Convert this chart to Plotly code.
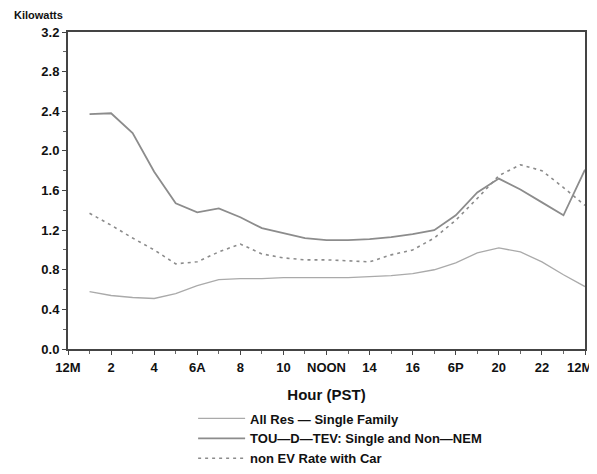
import plotly.graph_objects as go

hours = list(range(1, 25))
all_res = [0.58, 0.54, 0.52, 0.51, 0.56, 0.64, 0.70, 0.71, 0.71, 0.72, 0.72, 0.72,
           0.72, 0.73, 0.74, 0.76, 0.80, 0.87, 0.97, 1.02, 0.98, 0.88, 0.75, 0.63]
tou_tev = [2.37, 2.38, 2.18, 1.79, 1.47, 1.38, 1.42, 1.33, 1.22, 1.17, 1.12, 1.10,
           1.10, 1.11, 1.13, 1.16, 1.20, 1.35, 1.58, 1.72, 1.61, 1.48, 1.35, 1.81]
non_ev = [1.37, 1.25, 1.12, 1.00, 0.86, 0.88, 0.98, 1.06, 0.96, 0.92, 0.90, 0.90,
          0.89, 0.88, 0.95, 1.00, 1.12, 1.30, 1.52, 1.75, 1.86, 1.80, 1.63, 1.45]

names = ["All Res \u2014 Single Family", "TOU\u2014D\u2014TEV: Single and Non\u2014NEM",
         "non EV Rate with Car"]

x_tickvals = [0, 2, 4, 6, 8, 10, 12, 14, 16, 18, 20, 22, 24]
x_ticktext = ["12M", "2", "4", "6A", "8", "10", "NOON", "14", "16", "6P", "20", "22",
              "12M\u00a0\u00a0\u00a0"]
y_tickvals = [0.0, 0.4, 0.8, 1.2, 1.6, 2.0, 2.4, 2.8, 3.2]
y_ticktext = ["0.0", "0.4", "0.8", "1.2", "1.6", "2.0", "2.4", "2.8", "3.2"]

FAM = "Liberation Sans, Arial, sans-serif"
tick_font = dict(family=FAM, size=13, color="#111", weight="bold")
title_font = dict(family=FAM, size=15, color="#111", weight="bold")

fig = go.Figure()
fig.add_trace(go.Scatter(x=hours, y=all_res, mode="lines", name=names[0],
                         line=dict(color="#aaaaaa", width=1.3)))
fig.add_trace(go.Scatter(x=hours, y=tou_tev, mode="lines", name=names[1],
                         line=dict(color="#8c8c8c", width=1.8)))
fig.add_trace(go.Scatter(x=hours, y=non_ev, mode="lines", name=names[2],
                         line=dict(color="#8c8c8c", width=1.6, dash="3px,4px")))

# page body has an 8px margin, so the figure is sized to fit inside the window
fig.update_layout(
    width=589, height=466,
    margin=dict(l=60, r=12, t=24, b=125, autoexpand=False),
    paper_bgcolor="white", plot_bgcolor="white",
    font=tick_font,
    showlegend=True,
    legend=dict(x=0.242, y=-0.172, xanchor="left", yanchor="top",
                font=dict(family=FAM, size=13, color="#111", weight="bold"),
                tracegroupgap=0, itemwidth=47, bgcolor="rgba(0,0,0,0)"),
    annotations=[dict(text="Kilowatts", xref="paper", yref="paper", x=-0.108, y=1.054,
                      xanchor="left", yanchor="middle", showarrow=False,
                      font=dict(family=FAM, size=11, color="#111", weight="bold"))],
)
fig.update_xaxes(range=[0, 24], tickvals=x_tickvals, ticktext=x_ticktext, automargin=False,
                 showgrid=False, zeroline=False, showline=True, linecolor="#444", linewidth=2,
                 mirror=True, ticks="outside", ticklen=4, tickcolor="#444", ticklabelstandoff=1,
                 tickfont=tick_font, ticklabeloverflow="allow",
                 minor=dict(dtick=1, ticks="outside", ticklen=3, tickcolor="#666"),
                 title=dict(text="Hour (PST)", standoff=16, font=title_font))
fig.update_yaxes(range=[0, 3.2], tickvals=y_tickvals, ticktext=y_ticktext, automargin=False,
                 showgrid=False, zeroline=False, showline=True, linecolor="#444", linewidth=2,
                 mirror=True, ticks="outside", ticklen=4, tickcolor="#444", tickfont=tick_font,
                 minor=dict(tickvals=[0.2, 0.6, 1.0, 1.4, 1.8, 2.2, 2.6, 3.0], ticks="outside", ticklen=3, tickcolor="#666"))

fig.write_html("out.html")
